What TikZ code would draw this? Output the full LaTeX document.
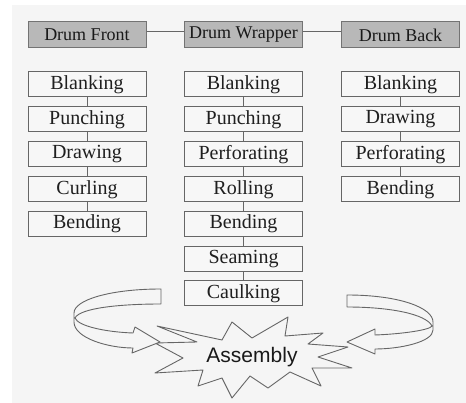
\documentclass[tikz,border=0pt]{standalone}
\usepackage{fontspec}
\setmainfont{Liberation Serif}
\newfontfamily\asmfont{Liberation Sans}
\begin{document}
\begin{tikzpicture}[x=1pt,y=-1pt,
  hdr/.style={draw=black!55,fill=black!28,line width=1pt,minimum width=118pt,minimum height=26pt,inner sep=0pt,font=\fontsize{18}{20}\selectfont,text=black!90},
  proc/.style={draw=black!60,fill=white!97!black,line width=1pt,minimum width=118pt,minimum height=25pt,inner sep=0pt,font=\fontsize{20}{22}\selectfont,text=black!88},
  link/.style={draw=black!60,line width=1pt},
  rib/.style={draw=black!60,line width=0.9pt,fill=black!4,line join=round}]
\useasboundingbox (0,0) rectangle (466,403);
\fill[white] (0,0) rectangle (466,403);
\fill[black!4] (12,5) rectangle (466,403);
% headers
\node[hdr] (df) at (87,35) {Drum Front};
\node[hdr] (dw) at (243.5,35) {Drum Wrapper};
\node[hdr] (db) at (400.5,35) {Drum Back};
\draw[link] ([yshift=3pt]df.east) -- ([yshift=3pt]dw.west);
\draw[link] ([yshift=3pt]dw.east) -- ([yshift=3pt]db.west);
% left column
\node[proc] (a1) at (87,84.5) {Blanking};
\node[proc] (a2) at (87,119.5) {Punching};
\node[proc] (a3) at (87,154.5) {Drawing};
\node[proc] (a4) at (87,189.5) {Curling};
\node[proc] (a5) at (87,224) {Bending};
% middle column
\node[proc] (b1) at (243.5,84.5) {Blanking};
\node[proc] (b2) at (243.5,119.5) {Punching};
\node[proc] (b3) at (243.5,154.5) {Perforating};
\node[proc] (b4) at (243.5,189.5) {Rolling};
\node[proc] (b5) at (243.5,224) {Bending};
\node[proc] (b6) at (243.5,259) {Seaming};
\node[proc] (b7) at (243.5,293.5) {Caulking};
% right column
\node[proc] (c1) at (400.5,84.5) {Blanking};
\node[proc] (c2) at (400.5,119.5) {Drawing};
\node[proc] (c3) at (400.5,154.5) {Perforating};
\node[proc] (c4) at (400.5,189.5) {Bending};
\foreach \u/\v in {a1/a2,a2/a3,a3/a4,a4/a5,b1/b2,b2/b3,b3/b4,b4/b5,b5/b6,b6/b7,c1/c2,c2/c3,c3/c4}
  \draw[link] (\u.south) -- (\v.north);
% starburst
\draw[rib] (157,326) -- (222,340) -- (232,322) -- (252,338) -- (288,317) -- (285,336)
  -- (323,333) -- (308,344) -- (348,347) -- (318,357) -- (352,368) -- (312,368)
  -- (321,386) -- (290,372) -- (268,388) -- (250,376) -- (232,398) -- (222,378)
  -- (198,386) -- (203,370) -- (155,373) -- (183,358) -- (155,343) -- (197,342) -- cycle;
\node[font=\asmfont\fontsize{21}{23}\selectfont,text=black!90] (asm) at (252,357) {Assembly};
% left curved arrow
\draw[rib] (161,289) .. controls (110,289) and (74,300) .. (74,313) -- (74,322)
  .. controls (74,338) and (108,348) .. (133,348) -- (132,353) -- (160,342) -- (135,327) -- (133,333)
  .. controls (105,332) and (78,326) .. (75,318)
  .. controls (80,308) and (120,304) .. (161,304) -- cycle;
% right curved arrow
\draw[rib] (347,295) .. controls (400,295) and (433,308) .. (433,322) -- (433,330)
  .. controls (433,342) and (400,349) .. (375,349) -- (375,354) -- (347,342) -- (375,329) -- (375,335)
  .. controls (402,334) and (430,330) .. (432,326)
  .. controls (426,314) and (390,307) .. (347,307) -- cycle;
\end{tikzpicture}
\end{document}
